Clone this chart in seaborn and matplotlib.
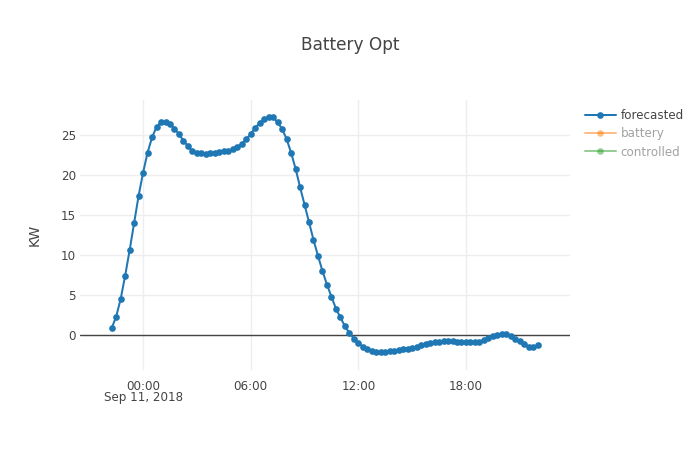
import pandas as pd
import matplotlib
matplotlib.use("Agg")
import matplotlib.pyplot as plt
from matplotlib.lines import Line2D
import seaborn as sns

sns.set_style("white")
plt.rcParams['font.family'] = ['DejaVu Sans']

# ------------------ DATA ------------------ #
start_time = "2018-09-10 22:15"
step = "15min"

forecasted = [
    0.85, 2.3, 4.5, 7.4, 10.6, 14.0, 17.4, 20.3, 22.8, 24.7,
    26.0, 26.6, 26.6, 26.4, 25.8, 25.1, 24.3, 23.6, 23.0, 22.8,
    22.7, 22.6, 22.7, 22.8, 22.9, 23.0, 23.0, 23.25, 23.5, 23.9,
    24.5, 25.1, 25.9, 26.5, 27.0, 27.3, 27.2, 26.6, 25.75, 24.5,
    22.8, 20.8, 18.5, 16.3, 14.1, 11.9, 9.9, 8.0, 6.3, 4.8,
    3.3, 2.2, 1.1, 0.25, -0.45, -1.0, -1.45, -1.8, -2.0, -2.1,
    -2.15, -2.1, -2.05, -2.0, -1.9, -1.8, -1.7, -1.6, -1.45, -1.3,
    -1.15, -1.0, -0.9, -0.85, -0.8, -0.8, -0.8, -0.85, -0.85, -0.9,
    -0.9, -0.9, -0.85, -0.65, -0.4, -0.15, 0.05, 0.15, 0.1, -0.1,
    -0.45, -0.8, -1.15, -1.45, -1.55, -1.25,
]

series_names = ["forecasted", "battery", "controlled"]
series_colors = ["#1f77b4", "#ff7f0e", "#2ca02c"]
series_visible = [True, False, False]

x_tick_times = ["2018-09-11 00:00", "2018-09-11 06:00", "2018-09-11 12:00", "2018-09-11 18:00"]
x_tick_labels = ["00:00\nSep 11, 2018", "06:00", "12:00", "18:00"]
y_ticks = [0, 5, 10, 15, 20, 25]

times = pd.date_range(start_time, periods=len(forecasted), freq=step)
df = pd.DataFrame({"time": times, "forecasted": forecasted})

# ------------------ PLOT ------------------ #
fig = plt.figure(figsize=(7, 4.5), dpi=100)
ax = fig.add_axes([80 / 700, 80 / 450, 490 / 700, 270 / 450])

sns.lineplot(data=df, x="time", y="forecasted", ax=ax, color=series_colors[0],
             linewidth=1.45, marker="o", markersize=4.8, markeredgewidth=0)

ax.set_xlim(pd.Timestamp("2018-09-10 20:29"), pd.Timestamp("2018-09-11 23:48"))
ax.set_ylim(-4.375, 29.375)

ax.set_xticks(pd.to_datetime(x_tick_times))
ax.set_xticklabels(x_tick_labels, linespacing=0.85)
ax.set_yticks(y_ticks)
ax.tick_params(axis="both", length=0, labelsize=8.6, labelcolor="#444444")
ax.tick_params(axis="x", pad=7)
ax.tick_params(axis="y", pad=3)

ax.grid(True, color="#eeeeee", linewidth=1)
ax.axhline(0, color="#444444", linewidth=1, zorder=1)
for s in ax.spines.values():
    s.set_visible(False)

ax.set_xlabel("")
ax.set_ylabel("KW", fontsize=10, color="#444444", labelpad=14)

fig.text(0.5, 1 - 45 / 450, "Battery Opt", ha="center", va="center",
         fontsize=12.2, color="#444444")

handles = []
for name, col, vis in zip(series_names, series_colors, series_visible):
    handles.append(Line2D([0], [0], color=col, lw=1.45, marker="o", markersize=4.8,
                          markeredgewidth=0, alpha=1.0 if vis else 0.5))
leg = fig.legend(handles, series_names, loc="upper left",
                 bbox_to_anchor=(580 / 700, 1 - 104 / 450), frameon=False,
                 fontsize=8.6, handlelength=2.6, handletextpad=0.4,
                 labelspacing=0.45, borderaxespad=0)
for txt, vis in zip(leg.get_texts(), series_visible):
    txt.set_color("#444444" if vis else "#a2a2a2")

plt.savefig("out.png", dpi=100)
